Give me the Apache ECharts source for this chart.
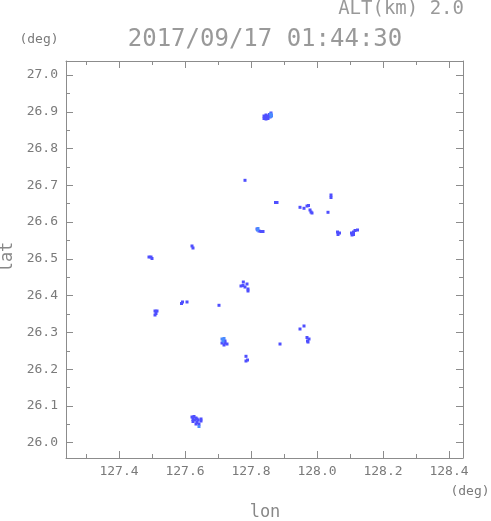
<!DOCTYPE html>
<html>
<head>
<meta charset="utf-8">
<script src="https://cdn.jsdelivr.net/npm/echarts@6/dist/echarts.min.js"></script>
<style>html,body{margin:0;padding:0;background:#fff}#c{width:491px;height:521px}</style>
</head>
<body>
<div id="c"></div>
<script>
// ---- data ----
var titleText = "2017/09/17 01:44:30";
var altText = "ALT(km) 2.0";
var xMajorTicks = [127.4, 127.6, 127.8, 128.0, 128.2, 128.4];
var xMinorTicks = [127.3, 127.5, 127.7, 127.9, 128.1, 128.3];
var yMajorTicks = [26.0, 26.1, 26.2, 26.3, 26.4, 26.5, 26.6, 26.7, 26.8, 26.9, 27.0];
var yMinorTicks = [26.05, 26.15, 26.25, 26.35, 26.45, 26.55, 26.65, 26.75, 26.85, 26.95];
var xRange = [127.2394, 128.4424];
var yRange = [25.9584, 27.0381];

// echo cells [lon, lat] - main colour
var echoDark = [
  [127.8394, 26.8885], [127.8394, 26.8817], [127.8455, 26.8912], [127.8455, 26.8858],
  [127.8455, 26.8803], [127.8515, 26.8885], [127.8515, 26.8817], [127.8576, 26.8858],
  [127.8561, 26.8926], [127.8606, 26.8967], [127.8621, 26.8899],
  [127.7818, 26.7136],
  [127.8742, 26.6533], [127.8788, 26.6533],
  [127.9485, 26.6402], [127.9606, 26.6375], [127.9697, 26.6437], [127.9742, 26.6451],
  [127.9788, 26.6329], [127.9818, 26.6274], [127.9848, 26.6247],
  [128.0424, 26.6737], [128.0424, 26.6668], [128.0333, 26.6266],
  [127.8242, 26.5757], [127.8303, 26.5744], [127.8364, 26.5744], [127.8182, 26.5812],
  [128.0621, 26.5730], [128.0682, 26.5703], [128.0636, 26.5662],
  [128.1045, 26.5703], [128.1106, 26.5730], [128.1061, 26.5649], [128.1152, 26.5771],
  [128.1227, 26.5785], [128.1106, 26.5662],
  [127.6212, 26.5350], [127.6242, 26.5295],
  [127.4909, 26.5050], [127.4970, 26.5050], [127.5000, 26.5009],
  [127.7767, 26.4370], [127.7697, 26.4262], [127.7758, 26.4275], [127.7879, 26.4316],
  [127.7818, 26.4234], [127.7909, 26.4180], [127.7909, 26.4126],
  [127.5894, 26.3786], [127.5924, 26.3827], [127.6061, 26.3827],
  [127.7030, 26.3737],
  [127.5091, 26.3582], [127.5152, 26.3582], [127.5121, 26.3514], [127.5091, 26.3473],
  [127.7212, 26.2766], [127.7212, 26.2711], [127.7273, 26.2684], [127.7182, 26.2657], [127.7121, 26.2711],
  [127.7848, 26.2350], [127.7848, 26.2222], [127.7894, 26.2249],
  [127.9485, 26.3092], [127.9606, 26.3174],
  [127.9697, 26.2861], [127.9758, 26.2820], [127.9712, 26.2766], [127.9727, 26.2738],
  [127.8879, 26.2684],
  [127.6212, 26.0699], [127.6273, 26.0713], [127.6333, 26.0672], [127.6364, 26.0645],
  [127.6242, 26.0631], [127.6303, 26.0617], [127.6394, 26.0617], [127.6242, 26.0577],
  [127.6364, 26.0549], [127.6333, 26.0508], [127.6424, 26.0508], [127.6485, 26.0645], [127.6485, 26.0590]
];
// echo cells [lon, lat] - lighter colour
var echoLight = [
  [127.8591, 26.8939], [127.8621, 26.8912], [127.8606, 26.8871],
  [127.8212, 26.5825], [127.8197, 26.5785],
  [127.7121, 26.2820], [127.7182, 26.2834], [127.7152, 26.2766],
  [127.6424, 26.0440]
];

// ---- chart ----
var FONT = "DejaVu Sans Mono";
var AX = "#8c8c8c";
var TXT = "#7a7a7a";
function lbl(v){ return v.toFixed(1); }

function xAxisDef(pos, ticks, len, withLabel, withLine){
  return {
    type: 'value', position: pos, min: xRange[0], max: xRange[1], gridIndex: 0,
    axisLine: {show: withLine, onZero: false, lineStyle: {color: AX, width: 1}},
    axisTick: {show: true, inside: true, length: len, customValues: ticks, lineStyle: {color: AX, width: 1}},
    axisLabel: withLabel ? {show: true, customValues: ticks, formatter: lbl, color: TXT, fontFamily: FONT, fontSize: 13, margin: 7} : {show: false},
    splitLine: {show: false}
  };
}
function yAxisDef(pos, ticks, len, withLabel, withLine){
  return {
    type: 'value', position: pos, min: yRange[0], max: yRange[1], gridIndex: 0,
    axisLine: {show: withLine, onZero: false, lineStyle: {color: AX, width: 1}},
    axisTick: {show: true, inside: true, length: len, customValues: ticks, lineStyle: {color: AX, width: 1}},
    axisLabel: withLabel ? {show: true, customValues: ticks, formatter: lbl, color: TXT, fontFamily: FONT, fontSize: 13, margin: 8} : {show: false},
    splitLine: {show: false}
  };
}

var chart = echarts.init(document.getElementById('c'), null, {renderer: 'canvas'});
chart.setOption({
  animation: false,
  backgroundColor: '#ffffff',
  grid: {left: 66, top: 61, width: 397, height: 397, containLabel: false},
  xAxis: [
    xAxisDef('bottom', xMajorTicks, 7, true, true),
    xAxisDef('bottom', xMinorTicks, 4, false, false),
    xAxisDef('top', xMajorTicks, 7, false, true),
    xAxisDef('top', xMinorTicks, 4, false, false)
  ],
  yAxis: [
    yAxisDef('left', yMajorTicks, 7, true, true),
    yAxisDef('left', yMinorTicks, 4, false, false),
    yAxisDef('right', yMajorTicks, 7, false, true),
    yAxisDef('right', yMinorTicks, 4, false, false)
  ],
  series: [
    {type: 'scatter', xAxisIndex: 0, yAxisIndex: 0, data: echoDark, symbol: 'rect', symbolSize: 3,
     itemStyle: {color: '#4f4fff', opacity: 1}, silent: true},
    {type: 'scatter', xAxisIndex: 0, yAxisIndex: 0, data: echoLight, symbol: 'rect', symbolSize: 3,
     itemStyle: {color: '#4a8aff', opacity: 1}, silent: true}
  ],
  graphic: [
    {type: 'text', x: 265, y: 40, style: {text: titleText, font: '24px "DejaVu Sans Mono"', fill: '#999999', textAlign: 'center', textVerticalAlign: 'middle'}},
    {type: 'text', x: 464, y: 9, style: {text: altText, font: '19px "DejaVu Sans Mono"', fill: '#999999', textAlign: 'right', textVerticalAlign: 'middle'}},
    {type: 'text', x: 39, y: 40, style: {text: '(deg)', font: '13px "DejaVu Sans Mono"', fill: TXT, textAlign: 'center', textVerticalAlign: 'middle'}},
    {type: 'text', x: 470, y: 492, style: {text: '(deg)', font: '13px "DejaVu Sans Mono"', fill: TXT, textAlign: 'center', textVerticalAlign: 'middle'}},
    {type: 'text', x: 265, y: 513, style: {text: 'lon', font: '17px "DejaVu Sans Mono"', fill: '#888888', textAlign: 'center', textVerticalAlign: 'middle'}},
    {type: 'text', x: 8, y: 257, rotation: Math.PI / 2, style: {text: 'lat', font: '17px "DejaVu Sans Mono"', fill: '#888888', textAlign: 'center', textVerticalAlign: 'middle'}}
  ]
});
</script>
</body>
</html>
